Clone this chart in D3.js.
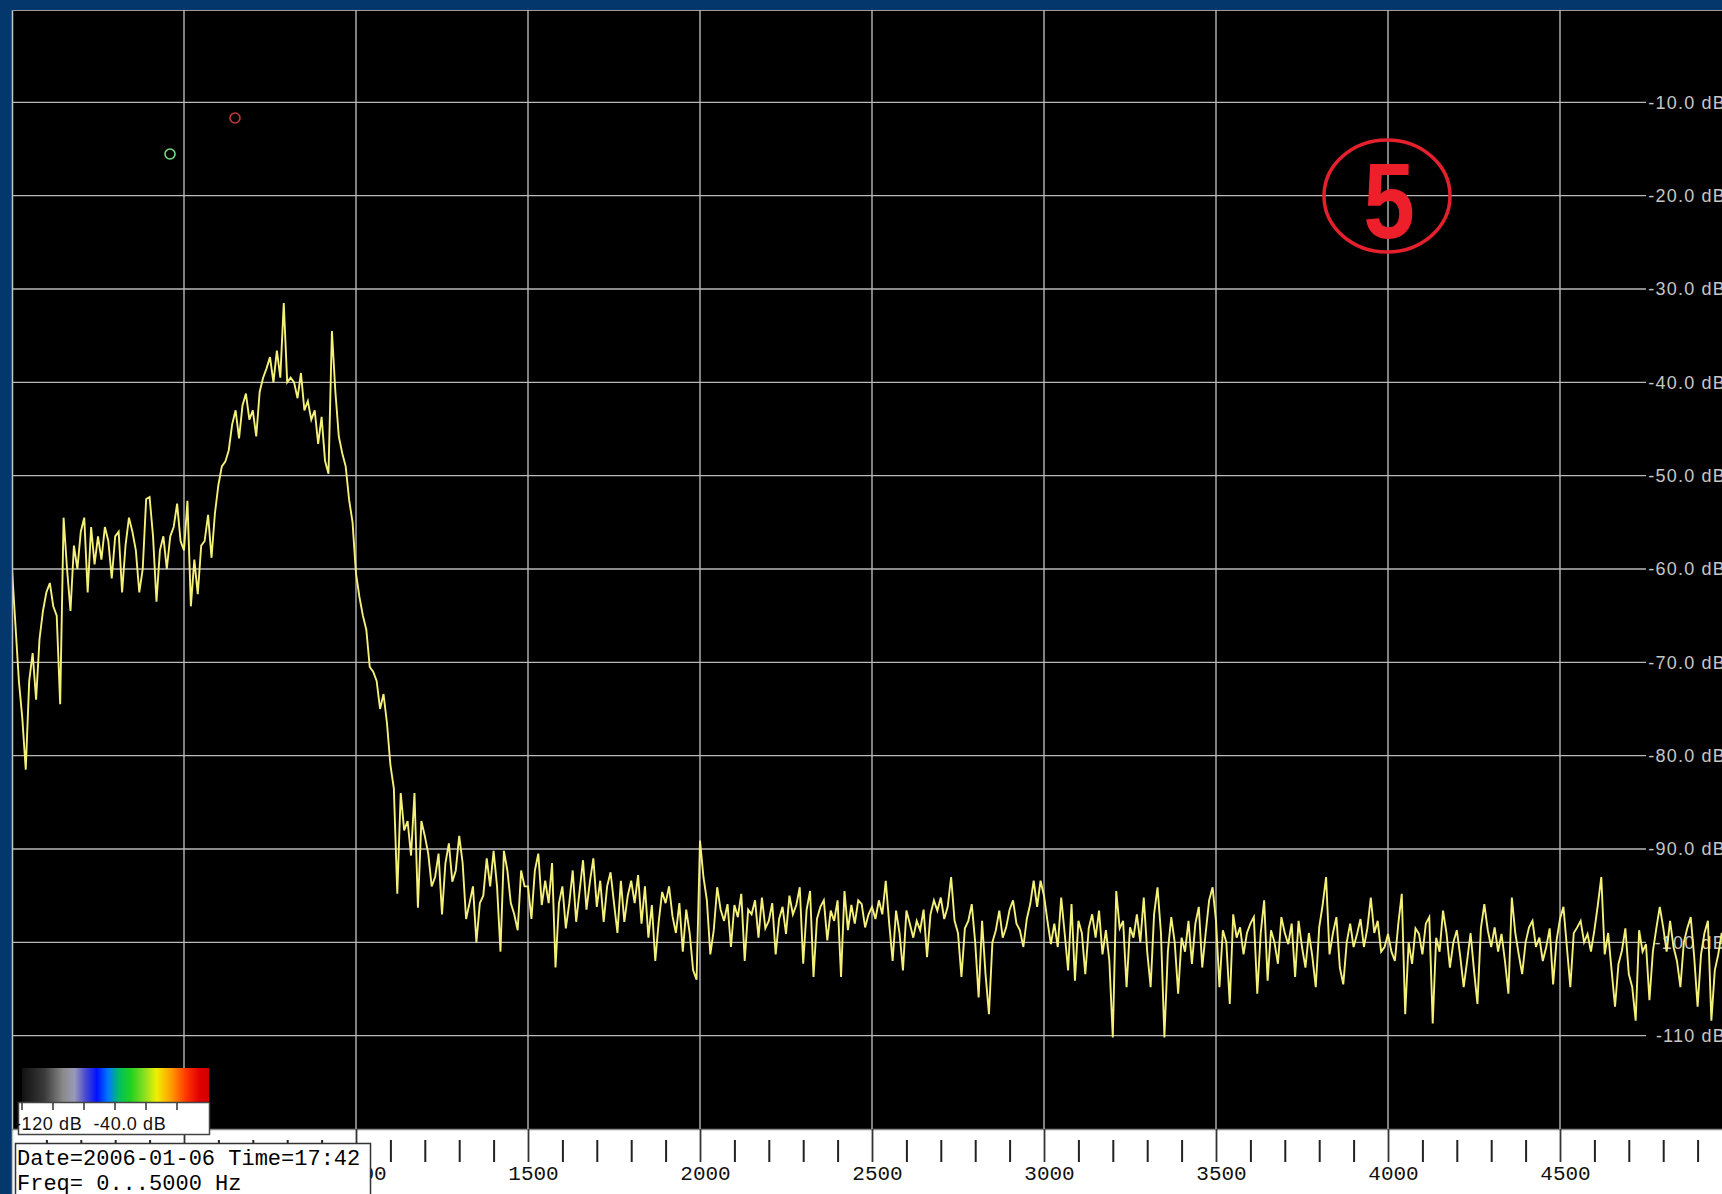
<!DOCTYPE html>
<html><head><meta charset="utf-8">
<script src="https://cdn.jsdelivr.net/npm/d3@7"></script>
<style>html,body{margin:0;padding:0;background:#04386c;overflow:hidden}</style>
</head><body>
<svg id="c" width="1722" height="1194"></svg>
<script>
// Spectrum level (dB) in 10 Hz steps, split into 500 Hz bands
const freqStep = 10;
const band0 = [-60,-66,-72,-76,-81.5,-72,-69,-74,-67.5,-64.5,
 -62.5,-61.5,-64,-65,-74.5,-54.5,-60,-64.5,-57.5,-60,
 -56,-54.5,-62.5,-55.5,-59.5,-56.5,-59,-55.5,-57,-61,
 -56.5,-56,-62.5,-57.5,-54.5,-56,-58,-62.5,-60,-52.5,
 -52.3,-56.5,-63.5,-58,-56.5,-60,-56.5,-55.5,-53,-57];
const band1 = [-58,-52.7,-64,-59,-62.7,-57.5,-57,-54.2,-58.8,-54,
 -51,-49,-48.5,-47.3,-44.5,-43,-46,-42.5,-41.2,-44,
 -43,-45.8,-41,-39.5,-38.5,-37.3,-40,-36.6,-39.5,-31.5,
 -40,-39.5,-40,-41.7,-39,-43,-42,-44,-43,-46.6,
 -43.7,-48.4,-49.8,-34.5,-41,-45.8,-47.6,-49,-52.6,-55];
const band2 = [-60.5,-63,-65,-66.5,-70.5,-71,-72,-75,-73.4,-76.5,
 -81,-83.5,-94.8,-84,-88,-87,-90.7,-84,-96.3,-87,
 -88.6,-90.5,-94,-93,-90.5,-97,-91.5,-89.4,-93.5,-92.3,
 -88.6,-91.5,-97.5,-95.8,-94,-100,-95.8,-95,-91,-94,
 -90.2,-94,-101,-90.2,-92.3,-95.8,-97,-98.7,-92.3,-94];
const band3 = [-94,-97.5,-92.3,-90.5,-96,-93.4,-95.8,-91.5,-102.7,-95.8,
 -94,-98.5,-95.8,-92.3,-97.8,-94.5,-91.2,-96.5,-93.5,-91,
 -96.2,-93.4,-97.8,-94,-92.5,-95.8,-99,-93.4,-97.8,-95,
 -93.4,-95.8,-92.8,-98,-94,-99.5,-96,-102,-97.8,-94.6,
 -95.8,-94,-97.2,-99,-95.8,-101,-96.5,-99,-103,-104];
const band4 = [-89.1,-93,-95.5,-101.3,-98.7,-94.1,-96.5,-97.7,-95.9,-100.5,
 -96,-97.3,-94.8,-102,-96.5,-97,-95.5,-99.5,-95.2,-98.5,
 -97.7,-95.8,-101.3,-97.5,-96.2,-99.1,-95,-97,-96,-94.1,
 -102.3,-96.5,-94.5,-103.7,-97.5,-96.2,-95.5,-99.8,-96.6,-97.7,
 -95.5,-103.7,-94.5,-98.7,-96,-98,-95.5,-95.9,-98.4,-97];
const band5 = [-96.2,-97.5,-95.5,-97,-93.4,-98,-102,-96.6,-99,-103,
 -96.6,-98,-99.5,-97.7,-98.7,-96.5,-101.6,-97,-95.5,-96.6,
 -95.2,-97.5,-96.2,-93,-97.7,-99,-103.7,-98.5,-97.7,-95.9,
 -100,-105.9,-97.7,-103.4,-107.7,-100,-98.7,-96.6,-99.5,-98.4,
 -96.5,-95.5,-98,-98.7,-100.5,-97.5,-95.9,-93.4,-96.2,-93.4];
const band6 = [-95,-97.7,-100.2,-98,-100.5,-95.2,-99,-103,-95.9,-104.1,
 -97.7,-99,-103.4,-98.5,-97,-99.5,-96.6,-101.3,-98.7,-102,
 -110.2,-94.5,-98.5,-97.7,-104.8,-98.4,-99.5,-97,-100,-95.2,
 -101,-104.8,-97,-94.1,-99,-110.2,-101,-97.3,-100,-105.5,
 -99.5,-101,-97.7,-102.3,-98,-96.2,-102.7,-99,-95.5,-94.1];
const band7 = [-97.7,-104.8,-98.7,-100,-106.6,-97,-99.5,-98.4,-101.3,-99,
 -98,-97.3,-105.5,-99,-95.5,-104.1,-98.7,-100,-102.3,-97.3,
 -99,-100.2,-98,-103.7,-97.7,-100.5,-102.7,-99,-101.5,-104.8,
 -98.4,-96,-93,-101.3,-99,-97.3,-102.7,-104.5,-100,-98,
 -100.5,-99.1,-97.5,-100.5,-98.5,-95.2,-99,-97.7,-101,-100.5];
const band8 = [-99.1,-101,-102,-98,-94.8,-107.7,-100,-102.3,-98.5,-99.1,
 -101.3,-98,-97.3,-108.7,-99.5,-101,-96.6,-99,-102.7,-100,
 -98.7,-101.5,-104.8,-102,-99,-103,-106.6,-98.5,-95.9,-98.7,
 -100.5,-98.4,-101,-99.1,-102,-105.5,-95.2,-99,-101.3,-103.4,
 -100,-98.4,-97.7,-100.5,-99.5,-102,-100.5,-98.5,-104.5,-99.8];
const band9 = [-97.5,-96.2,-100.5,-104.8,-99,-98.4,-97.7,-100,-99.1,-101,
 -98.7,-96,-93,-101.3,-99,-103,-106.9,-102.3,-100.9,-98.5,
 -103.4,-104.8,-108.4,-98.7,-101,-100.2,-106.2,-101,-98.5,-96.2,
 -98.4,-101,-97.7,-100.5,-102,-104.8,-100,-98.5,-97.3,-101.5,
 -106.9,-101.3,-99,-97.7,-108.4,-103,-101.3,-99,-100.5,-99];

const yTickValues = [-10,-20,-30,-40,-50,-60,-70,-80,-90,-100,-110];
const yTickLabels = ["-10.0 dB","-20.0 dB","-30.0 dB","-40.0 dB","-50.0 dB","-60.0 dB","-70.0 dB","-80.0 dB","-90.0 dB","-100 dB","-110 dB"];
const xMajorTicks = [500,1000,1500,2000,2500,3000,3500,4000,4500];
const xMajorLabels = ["500","1000","1500","2000","2500","3000","3500","4000","4500"];
const colorbarLabel = "-120 dB  -40.0 dB";
const dateLine = "Date=2006-01-06 Time=17:42";
const freqLine = "Freq= 0...5000 Hz";
const markerLabel = "5";

const levels = band0.concat(band1,band2,band3,band4,band5,band6,band7,band8,band9);
const data = levels.map((v,i)=>({f:i*freqStep, db:v}));

const svg = d3.select("#c");
const W = 1722, H = 1194;
const x = d3.scaleLinear().domain([0,5000]).range([12,1732]);
const y = d3.scaleLinear().domain([0,-120]).range([9,1129]);

svg.append("rect").attr("width",W).attr("height",H).attr("fill","#04386c");
svg.append("rect").attr("x",12).attr("y",10).attr("width",W-12).attr("height",1119).attr("fill","#000");
svg.append("rect").attr("x",13).attr("y",1129).attr("width",W-13).attr("height",H-1129).attr("fill","#fff");
svg.append("line").attr("x1",12.5).attr("x2",12.5).attr("y1",10).attr("y2",H).attr("stroke","#c4c4c4").attr("stroke-width",1.5);
svg.append("line").attr("x1",12).attr("x2",W).attr("y1",10.5).attr("y2",10.5).attr("stroke","#9a9a9a").attr("stroke-width",1);
svg.append("line").attr("x1",12).attr("x2",W).attr("y1",1129.5).attr("y2",1129.5).attr("stroke","#8a8a8a").attr("stroke-width",1.5);

// grid
const grid = svg.append("g");
grid.selectAll("line.h").data(yTickValues).join("line")
  .attr("x1",13).attr("x2",1646).attr("y1",d=>y(d)).attr("y2",d=>y(d))
  .attr("stroke","#b8b8b8").attr("stroke-width",1.4);
grid.selectAll("line.v").data(xMajorTicks).join("line")
  .attr("x1",d=>x(d)).attr("x2",d=>x(d)).attr("y1",10).attr("y2",1129)
  .attr("stroke","#b8b8b8").attr("stroke-width",1.4);

// y labels
svg.append("g").selectAll("text").data(yTickValues).join("text")
  .attr("x",1726).attr("y",d=>y(d)).attr("dy","0.36em")
  .attr("text-anchor","end")
  .style("font-family","'Liberation Sans', Arial, sans-serif")
  .style("font-size","18px").style("letter-spacing","1.2px")
  .attr("fill","#c6c6c6")
  .text((d,i)=>yTickLabels[i]);

// x axis (minor and major)
const minorTicks = d3.range(100,5000,100).filter(v=>v%500!==0);
const minorAxis = svg.append("g").attr("transform","translate(0,1140)")
  .call(d3.axisBottom(x).tickValues(minorTicks).tickSize(22).tickFormat(""));
minorAxis.select(".domain").remove();
minorAxis.selectAll("line").attr("stroke","#222").attr("stroke-width",2);

const majorAxis = svg.append("g").attr("transform","translate(0,1129)")
  .call(d3.axisBottom(x).tickValues(xMajorTicks).tickSize(33).tickPadding(3)
        .tickFormat((d,i)=>xMajorLabels[i]));
majorAxis.select(".domain").remove();
majorAxis.selectAll("line").attr("stroke","#333").attr("stroke-width",1.8);
majorAxis.selectAll("text").attr("dx",5).attr("fill","#111")
  .style("font-family","'Liberation Mono', 'Courier New', monospace").style("font-size","21px");

// trace
svg.append("clipPath").attr("id","plotclip").append("rect")
  .attr("x",13).attr("y",10).attr("width",W-13).attr("height",1119);
const line = d3.line().x(d=>x(d.f)).y(d=>y(d.db));
svg.append("path").datum(data).attr("clip-path","url(#plotclip)")
  .attr("d",line).attr("fill","none").attr("stroke","#f4f07a")
  .attr("stroke-width",1.9).attr("stroke-linejoin","miter");

// small markers
svg.append("circle").attr("cx",170).attr("cy",154).attr("r",5).attr("fill","none").attr("stroke","#7ddc7d").attr("stroke-width",1.6);
svg.append("circle").attr("cx",235).attr("cy",118).attr("r",5).attr("fill","none").attr("stroke","#c23a3a").attr("stroke-width",1.6);

// annotation
svg.append("ellipse").attr("cx",1387).attr("cy",196).attr("rx",63).attr("ry",56)
  .attr("fill","none").attr("stroke","#e3202b").attr("stroke-width",3.5);
svg.append("text").attr("x",0).attr("y",0)
  .attr("transform","translate(1389,238) scale(0.86,1)")
  .attr("text-anchor","middle").attr("fill","#ec1f2a")
  .style("font-family","'Liberation Sans', Arial, sans-serif").style("font-weight","bold").style("font-size","108px")
  .text(markerLabel);

// colour bar
const defs = svg.append("defs");
const grad = defs.append("linearGradient").attr("id","cbar").attr("x1","0%").attr("x2","100%");
[[0,"#111"],[0.12,"#3a3a3a"],[0.22,"#8a8a8a"],[0.28,"#9a9ab8"],[0.34,"#4a4ad0"],[0.40,"#0010ff"],
 [0.46,"#0078ff"],[0.52,"#00c060"],[0.58,"#20d020"],[0.66,"#90e020"],[0.72,"#f0f000"],[0.80,"#ff9900"],
 [0.88,"#ff3300"],[0.95,"#e00000"],[1,"#d00000"]].forEach(s=>grad.append("stop").attr("offset",s[0]).attr("stop-color",s[1]));
svg.append("rect").attr("x",22).attr("y",1068).attr("width",187).attr("height",34).attr("fill","url(#cbar)");
svg.append("rect").attr("x",18.5).attr("y",1102.5).attr("width",191).attr("height",32).attr("fill","#fff").attr("stroke","#444").attr("stroke-width",1.5);
svg.append("g").selectAll("line").data(d3.range(6)).join("line")
  .attr("x1",d=>22+d*31).attr("x2",d=>22+d*31).attr("y1",1103).attr("y2",1110).attr("stroke","#333").attr("stroke-width",1.5);
svg.append("text").attr("x",15).attr("y",1130)
  .style("font-family","'Liberation Sans', Arial, sans-serif").style("font-size","18px").style("letter-spacing","0.6px")
  .attr("fill","#111").style("white-space","pre").text(colorbarLabel);

// date box
svg.append("rect").attr("x",15.5).attr("y",1143.5).attr("width",355).attr("height",60).attr("fill","#fff").attr("stroke","#333").attr("stroke-width",1.5);
svg.append("text").attr("x",17).attr("y",1165)
  .style("font-family","'Liberation Mono', 'Courier New', monospace").style("font-size","22px")
  .attr("fill","#000").style("white-space","pre").text(dateLine);
svg.append("text").attr("x",17).attr("y",1190)
  .style("font-family","'Liberation Mono', 'Courier New', monospace").style("font-size","22px")
  .attr("fill","#000").style("white-space","pre").text(freqLine);
</script>
</body></html>
